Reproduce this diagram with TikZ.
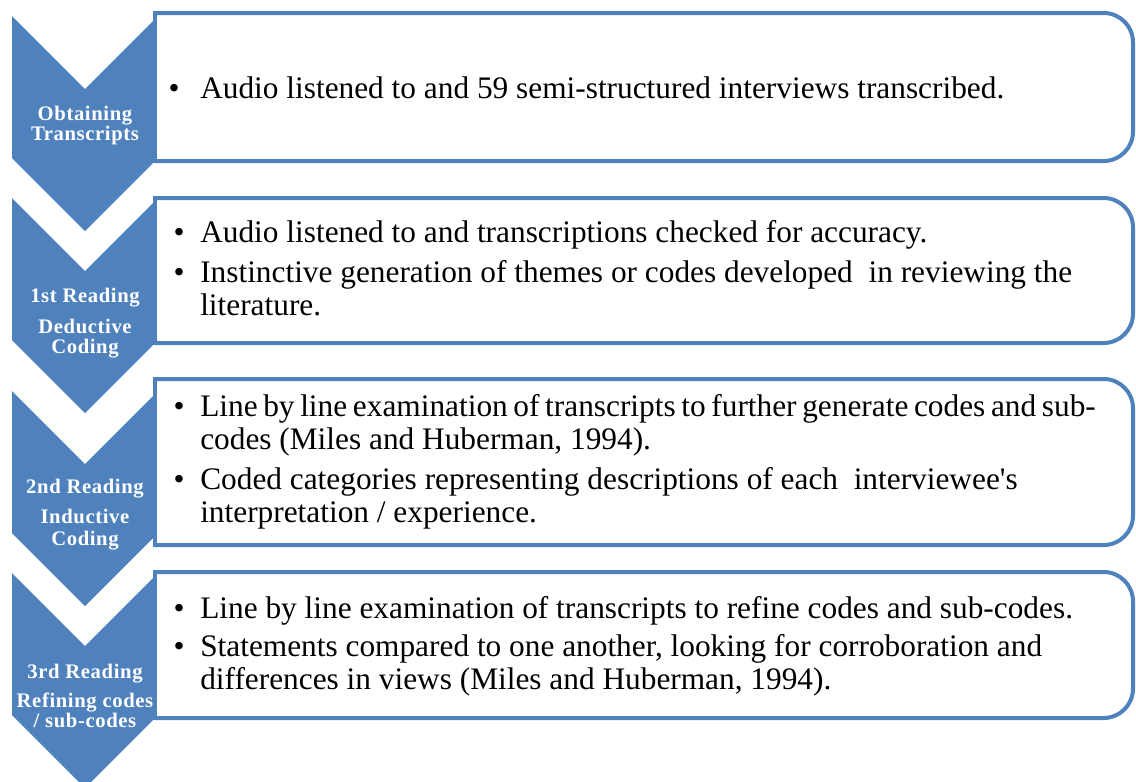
\documentclass[tikz,border=0pt]{standalone}
\usepackage{fontspec}
\setmainfont{Liberation Serif}
\definecolor{stepblue}{HTML}{4F81BD}
% one chevron of the left-hand arrow column, given its top edge
\newcommand\chevronat[1]{%
  \fill[chevronfill] (12,#1) -- (85,{#1+73}) -- (158,#1) -- (158,{#1+142})
    -- (85,{#1+215}) -- (12,{#1+142}) -- cycle;}
% a text panel: square on the left, rounded on the right
\newcommand\panelat[2]{%
  \fill[white,rounded corners=22] (155,#1) -- (1133,#1) -- (1133,#2) -- (155,#2);
  \draw[panelline,rounded corners=22] (155,#1) -- (1133,#1) -- (1133,#2) -- (155,#2);
  \draw[panelline,line cap=rect] (155,#1) -- (155,#2);}
% slightly narrower word spaces for a long line
\newcommand\tightspaces{\spaceskip=0.18em\relax}
\begin{document}
\begin{tikzpicture}[x=0.75pt,y=-0.75pt,
  chevronfill/.style={fill=stepblue},
  panelline/.style={draw=stepblue,line width=3pt},
  steplabel/.style={text=white,font=\bfseries\fontsize{15.5}{18}\selectfont\addfontfeatures{LetterSpace=3},anchor=base,inner sep=0pt},
  itemtext/.style={font=\fontsize{23.5}{28}\selectfont,anchor=base west,inner sep=0pt},
  bulletmark/.style={font=\fontsize{23.5}{28}\selectfont,anchor=base,inner sep=0pt}]
\useasboundingbox (0,0) rectangle (1136,782);
\clip (0,0) rectangle (1136,782);

% arrow column
\chevronat{16}
\chevronat{198}
\chevronat{391}
\chevronat{573}

% panels
\panelat{13}{161}
\panelat{198}{343}
\panelat{379}{545}
\panelat{572}{718}

% step labels
\node[steplabel] (s1a) at (85,120) {Obtaining};
\node[steplabel] (s1b) at (85,140) {Transcripts};
\node[steplabel] (s2a) at (85,302) {1st Reading};
\node[steplabel] (s2b) at (85,333) {Deductive};
\node[steplabel] (s2c) at (85,353) {Coding};
\node[steplabel] (s3a) at (85,493) {2nd Reading};
\node[steplabel] (s3b) at (85,523) {Inductive};
\node[steplabel] (s3c) at (85,545) {Coding};
\node[steplabel] (s4a) at (85,678) {3rd Reading};
\node[steplabel] (s4b) at (85,707) {Refining codes};
\node[steplabel] (s4c) at (85,727) {/ sub-codes};

% panel 1
\node[bulletmark] (b1a) at (174,98) {•};
\node[itemtext] (p1a) at (200,98) {Audio listened to and 59 semi-structured interviews transcribed.};

% panel 2
\node[bulletmark] (b2a) at (179,242) {•};
\node[itemtext] (p2a) at (200,242) {Audio listened to and transcriptions checked for accuracy.};
\node[bulletmark] (b2b) at (179,282) {•};
\node[itemtext] (p2b) at (200,282) {Instinctive generation of themes or codes developed\ \ in reviewing the};
\node[itemtext] (p2c) at (200,315) {literature.};

% panel 3
\node[bulletmark] (b3a) at (179,416) {•};
\node[itemtext] (p3a) at (200,416) {\tightspaces Line by line examination of transcripts to further generate codes and sub-};
\node[itemtext] (p3b) at (200,449) {codes (Miles and Huberman, 1994).};
\node[bulletmark] (b3b) at (179,489) {•};
\node[itemtext] (p3c) at (200,489) {Coded categories representing descriptions of each\ \ interviewee\textquotesingle s};
\node[itemtext] (p3d) at (200,522) {interpretation / experience.};

% panel 4
\node[bulletmark] (b4a) at (179,618) {•};
\node[itemtext] (p4a) at (200,618) {Line by line examination of transcripts to refine codes and sub-codes.};
\node[bulletmark] (b4b) at (179,656) {•};
\node[itemtext] (p4b) at (200,656) {Statements compared to one another, looking for corroboration and};
\node[itemtext] (p4c) at (200,689) {differences in views (Miles and Huberman, 1994).};
\end{tikzpicture}
\end{document}
